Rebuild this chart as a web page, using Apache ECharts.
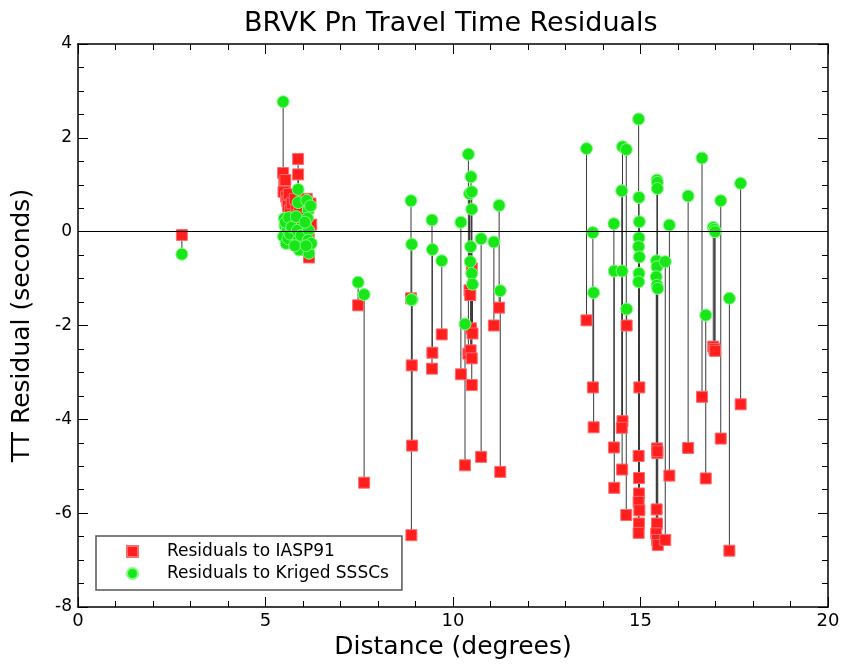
<!DOCTYPE html>
<html>
<head>
<meta charset="utf-8">
<script src="https://cdn.jsdelivr.net/npm/echarts@6/dist/echarts.min.js"></script>
<style>html,body{margin:0;padding:0;background:#fff}#c{width:845px;height:665px}</style>
</head>
<body>
<div id="c"></div>
<script>
// Distance (degrees) of each event
const distance = [
  2.77, 5.47,
  5.50, 5.52, 5.48, 5.55, 5.58, 5.53, 5.60, 5.62, 5.65, 5.70,
  5.87, 5.87, 5.82, 5.85, 5.88, 5.90, 5.78, 5.95,
  6.10, 6.14, 6.12, 6.15, 6.14, 6.16, 6.20, 6.22, 6.05, 6.08,
  7.47, 7.63,
  8.88, 8.90, 8.91, 8.89,
  9.44, 9.45, 9.70,
  10.21, 10.32, 10.41, 10.48, 10.44, 10.50, 10.50, 10.47, 10.46, 10.50, 10.52,
  10.75, 11.09, 11.23, 11.26,
  13.56, 13.73, 13.75,
  14.29, 14.30, 14.52, 14.62, 14.50, 14.51, 14.63,
  14.95, 14.96, 14.97, 14.96, 14.95, 14.97, 14.96, 14.95,
  15.44, 15.45, 15.45, 15.43, 15.44, 15.42, 15.44, 15.46,
  15.66, 15.77, 16.27, 16.64, 16.74, 16.94, 16.97, 16.99, 17.14, 17.37, 17.67
];
// Residuals to IASP91 (seconds)
const iasp91 = [
  -0.07, 1.25,
  1.05, 0.95, 0.85, 0.75, 0.65, 1.10, 0.55, 0.80, 0.45, 0.60,
  1.55, 1.22, 0.50, 0.35, 0.25, 0.40, 0.70, 0.20,
  0.70, 0.50, 0.20, -0.10, -0.40, -0.55, 0.60, 0.15, 0.30, 0.10,
  -1.57, -5.35,
  -1.42, -2.85, -4.56, -6.47,
  -2.92, -2.58, -2.19,
  -3.04, -4.98, -2.60, -2.06, -1.25, -0.78, -3.27, -2.53, -1.35, -2.70, -2.17,
  -4.80, -2.00, -1.62, -5.12,
  -1.89, -3.32, -4.17,
  -4.60, -5.46, -4.04, -6.04, -4.18, -5.07, -2.00,
  -4.78, -5.25, -3.32, -5.58, -5.76, -5.94, -6.22, -6.42,
  -4.62, -4.72, -4.68, -5.92, -6.22, -6.43, -6.57, -6.68,
  -6.57, -5.20, -4.61, -3.52, -5.26, -2.45, -2.50, -2.54, -4.41, -6.80, -3.68
];
// Residuals to Kriged SSSCs (seconds)
const kriged = [
  -0.48, 2.77,
  0.28, 0.12, -0.10, -0.25, 0.05, 0.20, -0.15, 0.30, -0.05, 0.10,
  0.90, 0.62, 0.32, 0.03, -0.18, -0.39, -0.30, -0.08,
  0.67, 0.46, 0.29, 0.03, -0.18, -0.46, 0.55, -0.25, 0.20, -0.30,
  -1.08, -1.34,
  0.66, -0.27, -1.45, -1.45,
  0.25, -0.38, -0.62,
  0.20, -1.97, 1.65, 1.17, 0.81, 0.85, 0.48, -0.32, -0.64, -0.89, -1.12,
  -0.15, -0.22, 0.56, -1.26,
  1.77, -0.02, -1.30,
  0.17, -0.84, 1.81, 1.75, 0.87, -0.84, -1.65,
  2.40, 0.73, 0.21, -0.13, -0.32, -0.54, -0.89, -1.07,
  1.10, 1.05, 0.92, -0.62, -0.75, -0.96, -1.14, -1.21,
  -0.64, 0.14, 0.76, 1.57, -1.78, 0.09, 0.05, 0.00, 0.66, -1.42, 1.03
];
const xTicks = [0, 5, 10, 15, 20];
const yTicks = [-8, -6, -4, -2, 0, 2, 4];

const FONT = 'DejaVu Sans';
const pairs = distance.map((d, i) => [d, iasp91[i], kriged[i]]);
const redPts = distance.map((d, i) => [d, iasp91[i]]);
const greenPts = distance.map((d, i) => [d, kriged[i]]);

const chart = echarts.init(document.getElementById('c'), null, {renderer: 'canvas'});
const axisCommon = {
  axisLine: {show: true, onZero: false, lineStyle: {color: '#000', width: 1.5}},
  axisTick: {show: true, inside: true, length: 10, lineStyle: {color: '#000', width: 1}},
  minorTick: {show: true, length: 6, lineStyle: {color: '#000', width: 1}},
  splitLine: {show: false}
};
chart.setOption({
  animation: false,
  backgroundColor: '#fff',
  title: {
    text: 'BRVK Pn Travel Time Residuals',
    left: 239, top: 5,
    textStyle: {fontFamily: FONT, fontSize: 27, fontWeight: 'normal', color: '#000'}
  },
  grid: {left: 78, right: 17, top: 44, bottom: 58},
  legend: {
    left: 96, top: 536, orient: 'vertical',
    backgroundColor: '#fff',
    borderColor: '#555', borderWidth: 1.5,
    padding: [7, 13, 8, 30],
    itemGap: 5,
    itemWidth: 11, itemHeight: 11,
    textStyle: {fontFamily: FONT, fontSize: 17, color: '#000', padding: [0, 0, 0, 24]},
    data: ['Residuals to IASP91', 'Residuals to Kriged SSSCs']
  },
  xAxis: [
    Object.assign({}, axisCommon, {
      type: 'value', position: 'bottom', min: xTicks[0], max: xTicks[xTicks.length - 1], interval: 5,
      minorTick: Object.assign({}, axisCommon.minorTick, {splitNumber: 5}),
      axisLabel: {fontFamily: FONT, fontSize: 18, color: '#000', margin: 5},
      name: 'Distance (degrees)', nameLocation: 'middle', nameGap: 26,
      nameTextStyle: {fontFamily: FONT, fontSize: 25, color: '#000'}
    }),
    Object.assign({}, axisCommon, {
      type: 'value', position: 'top', min: xTicks[0], max: xTicks[xTicks.length - 1], interval: 5,
      minorTick: Object.assign({}, axisCommon.minorTick, {splitNumber: 5}),
      axisLabel: {show: false}
    })
  ],
  yAxis: [
    Object.assign({}, axisCommon, {
      type: 'value', position: 'left', min: yTicks[0], max: yTicks[yTicks.length - 1], interval: 2,
      minorTick: Object.assign({}, axisCommon.minorTick, {splitNumber: 4}),
      axisLabel: {fontFamily: FONT, fontSize: 17, color: '#000', margin: 6},
      name: 'TT Residual (seconds)', nameLocation: 'middle', nameGap: 43,
      nameTextStyle: {fontFamily: FONT, fontSize: 25, color: '#000'}
    }),
    Object.assign({}, axisCommon, {
      type: 'value', position: 'right', min: yTicks[0], max: yTicks[yTicks.length - 1], interval: 2,
      minorTick: Object.assign({}, axisCommon.minorTick, {splitNumber: 4}),
      axisLabel: {show: false}
    })
  ],
  series: [
    {
      type: 'custom', name: 'links', silent: true, z: 1,
      data: pairs,
      renderItem: function (params, api) {
        const p1 = api.coord([api.value(0), api.value(1)]);
        const p2 = api.coord([api.value(0), api.value(2)]);
        return {type: 'line', shape: {x1: p1[0], y1: p1[1], x2: p2[0], y2: p2[1]},
          style: {stroke: '#3a3a3a', lineWidth: 1}};
      },
      encode: {x: 0, y: [1, 2]},
      markLine: {
        silent: true, symbol: 'none', label: {show: false},
        lineStyle: {color: '#000', width: 1, type: 'solid'},
        data: [{yAxis: 0}]
      }
    },
    {
      type: 'scatter', name: 'Residuals to IASP91', z: 2,
      symbol: 'rect', symbolSize: 11,
      itemStyle: {color: '#ff1f1f', borderColor: '#ff6a6a', borderWidth: 1, opacity: 1},
      data: redPts
    },
    {
      type: 'scatter', name: 'Residuals to Kriged SSSCs', z: 3,
      symbol: 'circle', symbolSize: 12,
      itemStyle: {color: '#19e619', borderColor: '#7dff7d', borderWidth: 1, opacity: 1},
      data: greenPts
    }
  ]
});
</script>
</body>
</html>
